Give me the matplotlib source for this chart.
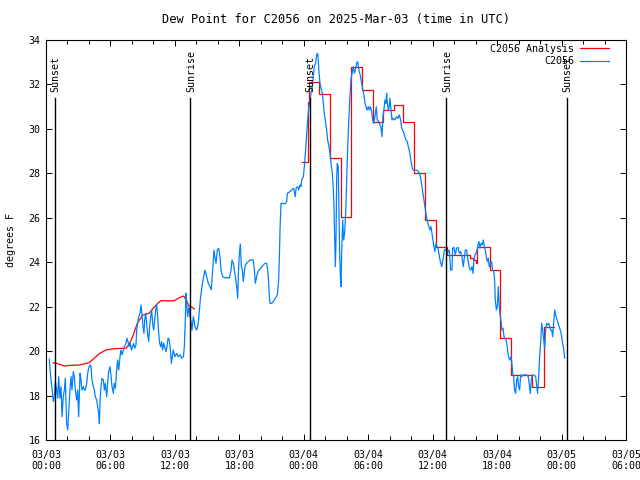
import matplotlib
matplotlib.use('Agg')
import numpy as np
import matplotlib.pyplot as plt

# hours since 03/03 00:00 UTC, dew point in degrees F

# C2056 observations
obs_hours = [
    0.31, 0.43, 0.56, 0.68, 0.78, 0.87, 0.99, 1.09, 1.18, 1.30, 1.40, 1.49, 1.61, 1.71, 1.80, 1.92,
    2.02, 2.11, 2.23, 2.33, 2.42, 2.54, 2.64, 2.73, 2.86, 2.95, 3.04, 3.17, 3.26, 3.35, 3.48, 3.57,
    3.66, 3.79, 3.88, 3.97, 4.10, 4.19, 4.28, 4.41, 4.50, 4.59, 4.72, 4.81, 4.90, 4.97, 5.03, 5.12,
    5.21, 5.34, 5.43, 5.52, 5.65, 5.74, 5.83, 5.96, 6.05, 6.15, 6.27, 6.36, 6.46, 6.58, 6.67, 6.77,
    6.89, 6.98, 7.08, 7.20, 7.29, 7.45, 7.54, 7.63, 7.76, 7.85, 7.95, 8.07, 8.16, 8.26, 8.38, 8.44,
    8.54, 8.63, 8.75, 8.85, 8.94, 9.03, 9.12, 9.19, 9.28, 9.37, 9.47, 9.56, 9.65, 9.75, 9.84, 9.93,
    10.02, 10.12, 10.21, 10.30, 10.40, 10.49, 10.58, 10.68, 10.77, 10.86, 10.96, 11.05, 11.17, 11.27,
    11.36, 11.48, 11.58, 11.67, 11.85, 12.01, 12.17, 12.32, 12.48, 12.63, 12.79, 12.88, 12.97, 13.03,
    13.10, 13.19, 13.31, 13.41, 13.50, 13.59, 13.72, 13.87, 14.03, 14.18, 14.28, 14.40, 14.52, 14.65,
    14.80, 14.96, 15.11, 15.27, 15.39, 15.52, 15.64, 15.74, 15.83, 15.95, 16.08, 16.20, 16.29, 16.45,
    16.67, 16.82, 17.07, 17.23, 17.32, 17.44, 17.54, 17.63, 17.75, 17.85, 17.91, 18.00, 18.09, 18.19,
    18.28, 18.37, 18.47, 18.56, 18.68, 18.84, 18.99, 19.15, 19.30, 19.40, 19.49, 19.61, 19.74, 19.86,
    19.99, 20.11, 20.24, 20.39, 20.55, 20.64, 20.73, 20.80, 20.86, 21.01, 21.17, 21.35, 21.54, 21.66,
    21.73, 21.79, 21.88, 22.04, 22.25, 22.41, 22.47, 22.72, 22.87, 23.03, 23.12, 23.21, 23.28, 23.43,
    23.53, 23.65, 23.74, 23.80, 23.96, 24.05, 24.17, 24.27, 24.36, 24.48, 24.58, 24.67, 24.79, 24.89,
    24.98, 25.10, 25.20, 25.29, 25.35, 25.42, 25.51, 25.60, 25.73, 25.82, 25.91, 26.04, 26.13, 26.22,
    26.35, 26.44, 26.53, 26.66, 26.75, 26.81, 26.87, 26.94, 27.00, 27.06, 27.12, 27.21, 27.28, 27.34,
    27.40, 27.46, 27.53, 27.62, 27.71, 27.80, 27.90, 27.99, 28.08, 28.18, 28.30, 28.39, 28.52, 28.61,
    28.70, 28.83, 28.92, 29.01, 29.08, 29.17, 29.29, 29.39, 29.48, 29.60, 29.70, 29.79, 29.88, 30.01,
    30.10, 30.19, 30.32, 30.41, 30.50, 30.63, 30.66, 30.75, 30.84, 30.97, 31.09, 31.18, 31.28, 31.37,
    31.46, 31.56, 31.65, 31.71, 31.77, 31.87, 31.96, 32.02, 32.12, 32.21, 32.33, 32.49, 32.64, 32.77,
    32.89, 33.02, 33.11, 33.20, 33.33, 33.42, 33.51, 33.64, 33.73, 33.82, 33.92, 34.01, 34.10, 34.19,
    34.35, 34.50, 34.66, 34.82, 34.91, 35.00, 35.10, 35.19, 35.28, 35.37, 35.47, 35.56, 35.65, 35.75,
    35.84, 35.93, 36.03, 36.12, 36.21, 36.31, 36.40, 36.49, 36.58, 36.68, 36.84, 36.99, 37.08, 37.24,
    37.36, 37.55, 37.67, 37.80, 37.86, 37.98, 38.11, 38.23, 38.36, 38.48, 38.60, 38.73, 38.85, 38.95,
    39.04, 39.16, 39.29, 39.41, 39.54, 39.66, 39.75, 39.85, 39.94, 40.03, 40.13, 40.22, 40.31, 40.40,
    40.50, 40.62, 40.71, 40.81, 40.90, 40.99, 41.09, 41.18, 41.27, 41.37, 41.49, 41.58, 41.68, 41.77,
    41.83, 41.93, 42.02, 42.11, 42.20, 42.30, 42.39, 42.45, 42.55, 42.64, 42.73, 42.83, 42.92, 43.01,
    43.10, 43.20, 43.29, 43.38, 43.45, 43.54, 43.63, 43.73, 43.82, 43.91, 44.00, 44.10, 44.19, 44.28,
    44.44, 44.60, 44.75, 44.90, 45.00, 45.09, 45.18, 45.28, 45.43, 45.59, 45.68, 45.77, 45.87, 45.96,
    46.05, 46.15, 46.24, 46.33, 46.43, 46.52, 46.61, 46.71, 46.80, 46.89, 46.98, 47.08, 47.17, 47.26,
    47.36, 47.45, 47.54, 47.64, 47.73, 47.82, 47.92, 48.01, 48.10, 48.19, 48.29,
]
obs_dewpt = [
    19.64, 18.85, 18.33, 17.73, 17.95, 18.62, 18.25, 17.88, 18.85, 17.88, 18.40, 17.05, 17.95, 18.25, 18.78, 16.75,
    16.45, 17.20, 18.25, 18.85, 18.25, 19.08, 18.85, 18.25, 17.80, 18.25, 17.05, 19.00, 18.70, 18.25, 18.40, 18.25,
    18.25, 18.55, 19.00, 19.23, 19.38, 19.30, 18.70, 18.40, 18.25, 17.95, 17.80, 17.50, 17.20, 16.75, 17.80, 18.40,
    18.78, 18.70, 18.25, 18.55, 17.95, 18.55, 19.08, 19.30, 18.85, 18.40, 18.10, 18.55, 18.33, 19.15, 19.60, 19.15,
    19.75, 20.05, 19.83, 20.05, 20.20, 20.35, 20.58, 20.43, 20.20, 20.35, 20.05, 20.20, 20.35, 20.13, 20.28, 20.95,
    21.25, 21.55, 21.70, 22.08, 21.63, 21.10, 20.80, 21.40, 21.70, 21.25, 20.73, 20.43, 21.10, 21.55, 21.85, 21.25,
    20.95, 21.40, 21.85, 22.08, 21.55, 20.80, 20.35, 20.20, 20.43, 20.05, 20.35, 20.20, 19.98, 20.20,
    20.58, 20.50, 20.05, 19.45, 20.05, 19.75, 19.90, 19.75, 19.83, 19.68, 19.75, 20.20, 21.40, 22.60,
    22.08, 21.55, 22.00, 21.55, 21.33, 20.95, 21.55, 21.10, 20.95, 21.25, 21.85, 22.45, 22.90, 23.28,
    23.65, 23.35, 23.05, 22.90, 22.75, 23.65, 24.55, 24.18, 23.95, 24.55, 24.63, 24.25, 23.65, 23.35,
    23.28, 23.32, 23.28, 23.65, 24.10, 23.95, 23.65, 23.35, 22.90, 22.38, 23.50, 24.40, 24.82, 23.80,
    23.65, 23.13, 23.58, 23.88, 23.95, 24.03, 24.10, 24.10, 24.10, 23.65, 23.05, 23.35, 23.58, 23.65,
    23.73, 23.80, 23.88, 23.95, 23.95, 23.65, 23.05, 22.38, 22.15, 22.15, 22.23, 22.38, 22.53, 23.20,
    24.25, 25.53, 26.65, 26.65, 26.62, 26.73, 27.10, 27.18, 27.25, 27.33, 27.18, 26.95, 27.33, 27.40,
    27.25, 27.48, 27.40, 27.70, 27.85, 28.30, 29.05, 29.80, 30.40, 31.00, 31.23, 31.60, 31.90, 32.35,
    32.80, 32.95, 33.33, 33.40, 33.10, 32.50, 32.05, 31.83, 31.60, 31.15, 30.70, 30.25, 29.95, 29.50,
    29.20, 28.90, 28.45, 28.00, 27.25, 26.50, 25.30, 23.80, 25.00, 27.70, 28.45, 28.30, 26.20, 24.40,
    23.50, 22.90, 24.40, 25.90, 25.00, 25.30, 26.20, 27.70, 29.05, 30.25, 31.45, 32.20, 32.58, 32.80,
    32.50, 32.73, 32.95, 33.03, 32.80, 32.58, 32.35, 32.05, 31.83, 31.53, 31.15, 31.00, 30.85, 31.00,
    30.85, 31.00, 30.78, 30.40, 30.25, 30.55, 30.70, 31.00, 30.40, 30.33, 30.18, 30.10, 29.65, 30.55,
    30.85, 31.30, 31.15, 31.60, 31.23, 30.85, 31.00, 31.38, 30.85, 30.40, 30.48, 30.40, 30.55, 30.48,
    30.63, 30.40, 30.03, 29.95, 29.80, 29.65, 29.50, 29.43, 29.20, 29.05, 28.75, 28.45, 28.23, 28.15,
    28.15, 28.15, 28.08, 27.93, 27.70, 27.40, 27.10, 26.80, 26.50, 26.20, 25.90, 25.75, 25.60, 25.45,
    25.60, 25.30, 25.00, 24.70, 24.48, 24.85, 24.70, 24.63, 24.40, 24.10, 23.80, 24.18, 24.55, 24.58,
    24.40, 24.55, 23.65, 23.65, 24.63, 24.67, 24.33, 24.63, 24.67, 24.40, 24.48, 24.25, 23.80, 24.18,
    24.55, 24.55, 24.10, 23.73, 23.65, 23.80, 23.50, 24.10, 24.33, 24.40, 24.55, 24.78, 24.93, 24.63,
    24.85, 24.78, 25.00, 24.70, 24.55, 24.25, 24.03, 24.18, 23.80, 23.95, 24.03, 23.65, 23.58, 23.20,
    22.30, 21.85, 22.00, 22.90, 22.00, 21.55, 21.25, 20.95, 21.03, 20.65, 20.58, 20.50, 20.28, 19.90,
    19.68, 19.60, 19.75, 19.45, 19.00, 18.85, 18.25, 18.10, 18.70, 18.85, 18.40, 18.25, 18.93, 18.85,
    18.93, 18.93, 18.93, 18.85, 18.48, 18.10, 18.70, 18.93, 18.93, 18.85, 18.48, 18.10, 18.85, 19.75,
    20.35, 21.25, 20.95, 20.50, 20.13, 20.95, 21.25, 21.18, 21.25, 21.10, 20.95, 20.95, 20.65, 21.25,
    21.85, 21.63, 21.48, 21.33, 21.18, 21.03, 20.88, 20.65, 20.35, 20.13, 19.68,
]

# C2056 Analysis: first night is fine-grained, second night is hourly steps
ana1_hours = [
    0.65, 1.00, 1.70, 2.30, 3.00, 3.60, 4.00, 4.30, 4.65, 5.00, 5.60, 6.20, 6.80, 7.45, 7.75, 8.07,
    8.50, 9.00, 9.60, 9.90, 10.30, 10.70, 11.50, 11.95, 12.40, 12.80, 13.10, 13.25, 13.60, 13.80,
]
ana1_dewpt = [
    19.47, 19.45, 19.33, 19.36, 19.37, 19.43, 19.48, 19.60, 19.75, 19.90, 20.05, 20.10, 20.12, 20.13, 20.32, 20.65,
    21.25, 21.62, 21.70, 21.88, 22.10, 22.27, 22.26, 22.27, 22.40, 22.48, 22.27, 22.07, 21.97, 21.90,
]
ana2_hours = [
    23.83, 24.42, 24.52, 25.42, 26.44, 27.43, 28.37, 29.39, 30.41, 31.34, 32.37, 33.27, 34.30, 35.30,
    36.30, 37.30, 39.16, 39.45, 39.75, 40.03, 40.10, 41.30, 42.30, 43.27, 45.22, 46.37, 47.30,
]
ana2_dewpt = [
    28.50, 31.22, 32.12, 31.57, 28.68, 26.05, 32.80, 31.75, 30.33, 30.85, 31.07, 30.29, 28.00, 25.90,
    24.67, 24.33, 24.33, 24.20, 24.10, 23.95, 24.67, 23.65, 20.58, 18.93, 18.40, 21.10, 21.10,
]

sun_hours = [0.86, 13.45, 24.60, 37.28, 48.48]
sun_labels = ['Sunset', 'Sunrise', 'Sunset', 'Sunrise', 'Sunset']

tick_hours = list(range(0, 55, 6))
tick_labels = ['03/03\n00:00', '03/03\n06:00', '03/03\n12:00', '03/03\n18:00',
               '03/04\n00:00', '03/04\n06:00', '03/04\n12:00', '03/04\n18:00',
               '03/05\n00:00', '03/05\n06:00']

plt.rcParams['font.family'] = 'DejaVu Sans Mono'
plt.rcParams['font.size'] = 7.2

fig = plt.figure(figsize=(6.4, 4.8), dpi=100)
ax = fig.add_axes([46/640, 40/480, 580/640, 400/480])

ax.plot(ana1_hours, ana1_dewpt, color='#ff0000', lw=0.9, label='C2056 Analysis')
ax.plot(ana2_hours, ana2_dewpt, color='#ff0000', lw=0.9, drawstyle='steps-post')
ax.plot(obs_hours, obs_dewpt, color='#0080ff', lw=0.9, label='C2056')

# sunrise / sunset markers
for h, name in zip(sun_hours, sun_labels):
    ax.plot([h, h], [16, 31.4], color='black', lw=1.0)
    ax.text(h + 0.05, 31.65, name, rotation=90, ha='center', va='bottom')

ax.set_xlim(0, 54)
ax.set_ylim(16, 34)
ax.set_xticks(tick_hours)
ax.set_xticklabels(tick_labels)
ax.set_xticks(range(0, 55, 2), minor=True)
ax.set_yticks(range(16, 35, 2))
ax.tick_params(which='major', direction='in', top=True, right=True, length=4.5, width=0.7, pad=7)
ax.tick_params(which='minor', direction='in', top=True, length=3, width=0.7)
ax.tick_params(axis='y', pad=4)
for s in ax.spines.values():
    s.set_linewidth(0.8)

ax.set_ylabel('degrees F', labelpad=9)
ax.set_title('Dew Point for C2056 on 2025-Mar-03 (time in UTC)', pad=12)

ax.legend(loc='upper right', bbox_to_anchor=(1 - 17/580, 1 - 4/400), frameon=False,
          markerfirst=False, borderaxespad=0, borderpad=0, handlelength=2.9,
          handletextpad=0.6, labelspacing=0.25)

fig.savefig('out.png', dpi=100)
